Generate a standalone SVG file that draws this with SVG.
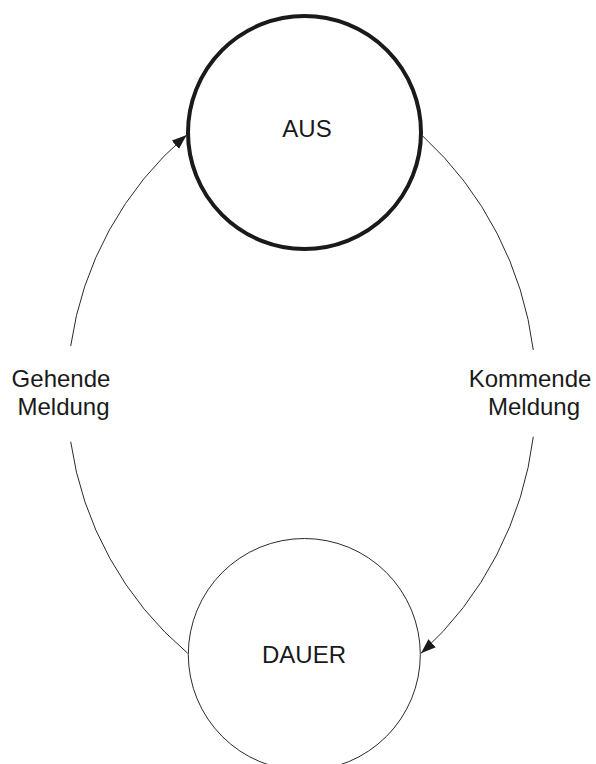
<svg xmlns="http://www.w3.org/2000/svg" width="596" height="764" viewBox="0 0 596 764">
<style>
.label{font-family:"Liberation Sans",Arial,sans-serif;font-size:24px;fill:#1a1a1a;text-anchor:middle}
.conn{fill:none;stroke:#2a2a2a;stroke-width:1}
</style>
<defs>
<marker id="arrow" markerUnits="userSpaceOnUse" markerWidth="16" markerHeight="12" refX="15" refY="5.5" orient="auto">
<path d="M0,0 L15,5.5 L0,11 z" fill="#1a1a1a"/>
</marker>
</defs>
<rect width="596" height="764" fill="#ffffff"/>
<g id="connectors">
<path class="conn" d="M70.7,346 A340.6,340.6 0 0 1 186.7,135" marker-end="url(#arrow)"/>
<path class="conn" d="M187.7,653.3 A340.6,340.6 0 0 1 70.7,441.7"/>
<path class="conn" d="M422.7,136 A350.3,350.3 0 0 1 533.3,350"/>
<path class="conn" d="M533.3,436.7 A350.3,350.3 0 0 1 421,653.3" marker-end="url(#arrow)"/>
<text class="label" x="61" y="387">Gehende</text>
<text class="label" x="63.5" y="415">Meldung</text>
<text class="label" x="530" y="387">Kommende</text>
<text class="label" x="534" y="415">Meldung</text>
</g>
<g id="aus">
<circle cx="304.5" cy="132.5" r="116.5" fill="#ffffff" stroke="#1a1a1a" stroke-width="4"/>
<text class="label" x="307" y="137">AUS</text>
</g>
<g id="dauer">
<circle cx="304.3" cy="654.5" r="116" fill="#ffffff" stroke="#2a2a2a" stroke-width="1"/>
<text class="label" x="304" y="663">DAUER</text>
</g>
</svg>
